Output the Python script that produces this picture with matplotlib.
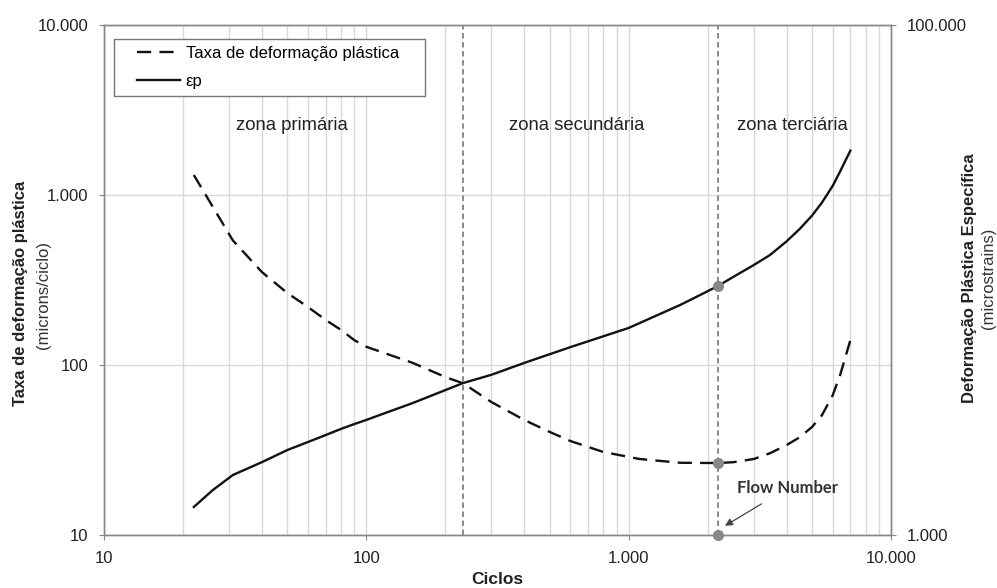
import matplotlib
matplotlib.use("Agg")
import matplotlib.pyplot as plt
from matplotlib.ticker import FixedLocator, FuncFormatter, NullLocator, LogLocator
from matplotlib.legend_handler import HandlerLine2D

plt.rcParams['font.family'] = ['Liberation Sans', 'DejaVu Sans']

# ---- data ----
rate_cycles = [22, 31, 40, 50, 60, 70, 80, 90, 100, 150, 200, 234, 300, 400, 500,
               600, 800, 1000, 1100, 1571, 2200, 2500, 3000, 3460, 4000, 4500, 5000,
               5460, 6000, 6400, 7000]
rate_values = [1310, 540, 352, 265, 219, 184, 161, 140, 128, 103, 85, 78, 60.5, 47.5,
               40.4, 35.7, 30.8, 28.8, 28, 26.6, 26.5, 26.8, 28, 30.3, 33.8, 37.7, 43.2,
               50.8, 66.6, 87.4, 140]

strain_cycles = [22, 26, 31, 40, 50, 60, 70, 80, 90, 100, 113, 150, 234, 300, 400, 600,
                 1000, 1571, 1871, 2200, 2500, 3000, 3460, 4000, 4500, 5000, 5460, 6000,
                 6400, 7000]
strain_values = [1288, 1501, 1719, 1931, 2154, 2317, 2466, 2606, 2723, 2826, 2960, 3290,
                 3944, 4250, 4730, 5456, 6486, 7980, 8730, 9500, 10270, 11450, 12540,
                 14180, 15900, 17890, 20150, 23430, 26660, 32170]

zone_limits = [234, 2200]
flow_number = 2200
flow_rate = 26.5
flow_strain = 9500

zone_names = ["zona primária", "zona secundária", "zona terciária"]
left_ticks = [10, 100, 1000, 10000]
right_ticks = [1000, 100000]
x_ticks = [10, 100, 1000, 10000]

def br(v, pos=None):
    return f"{v:,.0f}".replace(",", ".")

W, H = 997, 588
fig = plt.figure(figsize=(W / 100, H / 100), dpi=100)
ax = fig.add_axes([104 / W, 1 - 535 / H, 787 / W, 510 / H])
ax2 = ax.twinx()

ax.set_xscale('log')
ax.set_yscale('log')
ax2.set_yscale('log')
ax.set_xlim(10, 10000)
ax.set_ylim(10, 10000)
ax2.set_ylim(1000, 100000)

ax.xaxis.set_major_locator(FixedLocator(x_ticks))
ax.xaxis.set_minor_locator(LogLocator(base=10, subs=range(2, 10)))
ax.yaxis.set_major_locator(FixedLocator(left_ticks))
ax.yaxis.set_minor_locator(NullLocator())
ax2.yaxis.set_major_locator(FixedLocator(right_ticks))
ax2.yaxis.set_minor_locator(NullLocator())
ax.xaxis.set_major_formatter(FuncFormatter(br))
ax.yaxis.set_major_formatter(FuncFormatter(br))
ax2.yaxis.set_major_formatter(FuncFormatter(br))

ax.grid(True, which='major', axis='both', color='#d9d9d9', lw=1.0)
ax.grid(True, which='minor', axis='x', color='#d9d9d9', lw=1.0)
ax.set_axisbelow(True)

for a in (ax, ax2):
    for s in a.spines.values():
        s.set_color('#888888')
        s.set_linewidth(1.0)
ax.tick_params(axis='y', which='major', length=3.5, color='#888888', labelsize=12,
               labelcolor='#222222', pad=7.5)
ax.tick_params(axis='x', which='major', length=3.5, color='#888888', labelsize=12,
               labelcolor='#222222', pad=8)
ax.tick_params(axis='x', which='minor', length=0)
ax2.tick_params(axis='y', which='major', length=3.5, color='#888888', labelsize=12,
                labelcolor='#222222', pad=7.5)

# vertical zone lines
for z in zone_limits:
    ax.axvline(z, color='#808080', lw=1.3, ls=(0, (3, 2)), zorder=2)

# curves
l1, = ax.plot(rate_cycles, rate_values, color='#111111', lw=1.7, dashes=(6, 3.5),
              label='Taxa de deformação plástica', zorder=3)
l2, = ax2.plot(strain_cycles, strain_values, color='#111111', lw=1.7,
               label='εp', zorder=3)

# flow number points
ax.plot([flow_number, flow_number], [flow_rate, 10], 'o', color='#888888', ms=7,
        clip_on=False, zorder=5)
ax2.plot([flow_number], [flow_strain], 'o', color='#888888', ms=7, zorder=5)

leg = ax2.legend(handles=[l1, l2], loc='upper left',
                 bbox_to_anchor=(10 / 787, 1 - 14 / 510 - 0.01, 311 / 787, 0.01),
                 mode='expand',
                 fontsize=12, frameon=True, fancybox=False, edgecolor='#777777',
                 handlelength=3.55, borderpad=0.4, labelspacing=0.8, handletextpad=0.35,
                 borderaxespad=0, framealpha=1,
                 handler_map={l1: HandlerLine2D(xpad=1.0), l2: HandlerLine2D(xpad=1.0)})
leg.get_frame().set_linewidth(1.0)

# zone labels
for name, xf in zip(zone_names, [0.239, 0.601, 0.875]):
    ax.text(xf, 0.803, name, transform=ax.transAxes, ha='center', va='center',
            fontsize=13.3, color='#222222')

ax2.annotate('Flow Number', xy=(0.789, 0.018), xycoords='axes fraction',
             xytext=(0.869, 0.092), textcoords='axes fraction', ha='center', va='center',
             fontsize=12, fontweight='bold', family=['Lato', 'DejaVu Sans'], color='#333333',
             arrowprops=dict(arrowstyle='-|>', color='#444444', lw=0.9,
                             shrinkA=7, shrinkB=0, mutation_scale=11))

# axis labels
fig.text(497 / W, 1 - 580 / H, 'Ciclos', ha='center', va='center', fontsize=12.5,
         fontweight='bold', color='#222222')
fig.text(21 / W, 1 - 293 / H, 'Taxa de deformação plástica', rotation=90, ha='center',
         va='center', fontsize=12, fontweight='bold', color='#222222')
fig.text(44 / W, 1 - 295 / H, '(microns/ciclo)', rotation=90, ha='center',
         va='center', fontsize=12, color='#333333')
fig.text(969 / W, 1 - 278 / H, 'Deformação Plástica Específica', rotation=90, ha='center',
         va='center', fontsize=12, fontweight='bold', color='#222222')
fig.text(988 / W, 1 - 278 / H, '(microstrains)', rotation=90, ha='center',
         va='center', fontsize=12, color='#333333')

fig.savefig('out.png', dpi=100)
